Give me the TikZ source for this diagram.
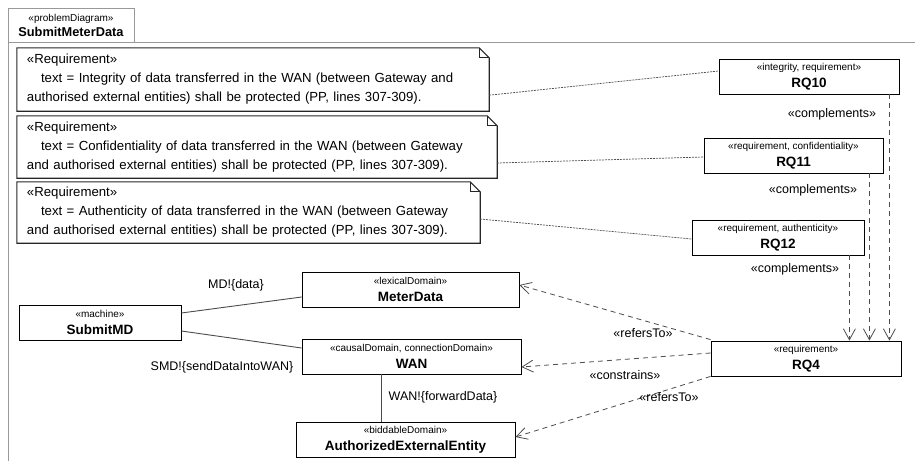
\documentclass[tikz,border=0pt]{standalone}
\usepackage{fontspec}
\setmainfont{Liberation Sans}
\usetikzlibrary{calc,arrows.meta}
\definecolor{framegray}{gray}{0.6}
\definecolor{linegray}{gray}{0.3}
\newcommand*{\Stereo}[1]{{\fontsize{10}{11}\selectfont «#1»}}
\newcommand*{\NoteOutline}[1]{% #1 = name of a note node
\draw [notepen] ($(#1.north east)+(-10,0)$) -- (#1.north west) -- (#1.south west)
  -- (#1.south east) -- ($(#1.north east)+(0,10)$) -- cycle;
\draw [notepen] ($(#1.north east)+(-10,0)$) -- ++(0,10) -- ++(10,0);
}
\tikzset{
  box/.style={draw=black, line width=0.8pt, fill=white, minimum height=35pt,
    inner sep=0pt, align=center, font=\fontsize{13.5}{17}\selectfont},
  reqnote/.style={inner xsep=10pt, inner ysep=0pt, align=left,
    font=\fontsize{13.2}{19}\selectfont},
  notepen/.style={draw=black!85, line width=1.1pt},
  trace/.style={draw=linegray, line width=0.7pt, dash pattern=on 2pt off 1pt},
  plain/.style={draw=linegray, line width=0.9pt},
  dep/.style={draw=linegray, line width=0.8pt, dash pattern=on 5pt off 4pt,
    -{Straight Barb[length=11pt,width=12pt,line width=0.8pt]}},
  lbl/.style={font=\fontsize{12.5}{14}\selectfont, inner sep=1pt}
}
\begin{document}
\begin{tikzpicture}[x=1pt, y=-1pt]
\useasboundingbox (0,0) rectangle (915,461);

% frame of the problem diagram
\draw [framegray, line width=0.9pt] (134,42) -- (915,42);
\draw [framegray, line width=0.9pt] (8,42) -- (8,461);
\node [draw=framegray, line width=0.9pt, minimum width=126pt, minimum height=34pt,
  inner sep=0pt, align=center, font=\fontsize{12.8}{15}\selectfont] (tab)
  at (71,25) {\Stereo{problemDiagram}\\\textbf{SubmitMeterData}};

% requirement notes
\node [reqnote, text width=452pt, minimum height=63pt] (note10) at (253,79.5)
  {«Requirement»\\\hspace*{14pt}text = Integrity of data transferred in the WAN (between Gateway and\\authorised external entities) shall be protected (PP, lines 307-309).};
\node [reqnote, text width=460pt, minimum height=62pt] (note11) at (257,147)
  {«Requirement»\\\hspace*{14pt}text = Confidentiality of data transferred in the WAN (between Gateway\\and authorised external entities) shall be protected (PP, lines 307-309).};
\node [reqnote, text width=443pt, minimum height=61pt] (note12) at (248.5,212.5)
  {«Requirement»\\\hspace*{14pt}text = Authenticity of data transferred in the WAN (between Gateway\\and authorised external entities) shall be protected (PP, lines 307-309).};
\NoteOutline{note10}
\NoteOutline{note11}
\NoteOutline{note12}

% requirements
\node [box, minimum width=180pt] (RQ10) at (809,76.5)
  {\Stereo{integrity, requirement}\\\textbf{RQ10}};
\node [box, minimum width=179pt] (RQ11) at (793.5,155.5)
  {\Stereo{requirement, confidentiality}\\\textbf{RQ11}};
\node [box, minimum width=172pt] (RQ12) at (778,237.5)
  {\Stereo{requirement, authenticity}\\\textbf{RQ12}};
\node [box, minimum width=190pt] (RQ4) at (806,358.5)
  {\Stereo{requirement}\\\textbf{RQ4}};

% domains
\node [box, minimum width=162pt] (SubmitMD) at (100,322.5)
  {\Stereo{machine}\\\textbf{SubmitMD}};
\node [box, minimum width=217pt] (MeterData) at (410.5,289.5)
  {\Stereo{lexicalDomain}\\\textbf{MeterData}};
\node [box, minimum width=219pt] (WAN) at (411.5,356.5)
  {\Stereo{causalDomain, connectionDomain}\\\textbf{WAN}};
\node [box, minimum width=219pt] (AEE) at (405.5,439.5)
  {\Stereo{biddableDomain}\\\textbf{AuthorizedExternalEntity}};

% notes to requirements
\draw [trace] ($(note10.south east)+(0,-16)$) -- ($(RQ10.west)+(0,-5.5)$);
\draw [trace] ($(note11.east)+(0,16)$) -- ($(RQ11.west)+(0,1.5)$);
\draw [trace] ($(note12.east)+(0,6.5)$) -- ($(RQ12.west)+(0,1.5)$);

% complements
\coordinate (c10) at ($(RQ10.south east)+(-10,0)$);
\coordinate (c11) at ($(RQ11.south east)+(-14,0)$);
\coordinate (c12) at ($(RQ12.south east)+(-15,0)$);
\draw [dep] (c10) -- (c10 |- RQ4.north);
\draw [dep] (c11) -- (c11 |- RQ4.north);
\draw [dep] (c12) -- (c12 |- RQ4.north);
\node [lbl] (cmp10) at (832,114) {«complements»};
\node [lbl] (cmp11) at (813,190) {«complements»};
\node [lbl] (cmp12) at (795,269) {«complements»};

% interfaces
\draw [plain] ($(SubmitMD.east)+(0,-9.5)$) -- ($(MeterData.west)+(0,7.5)$);
\draw [plain] ($(SubmitMD.east)+(0,8.5)$) -- ($(WAN.west)+(0,-8.5)$);
\coordinate (fwd) at (381,0);
\draw [plain] (fwd |- WAN.south) -- (fwd |- AEE.north);
\node [lbl] (ifc1) at (236,285) {MD!\{data\}};
\node [lbl] (ifc2) at (222,367) {SMD!\{sendDataIntoWAN\}};
\node [lbl] (ifc3) at (443,397) {WAN!\{forwardData\}};

% references of RQ4
\draw [dep] ($(RQ4.north west)+(0,-1)$) -- ($(MeterData.east)+(0,-4.5)$);
\draw [dep] ($(RQ4.west)+(0,-5.5)$) -- ($(WAN.east)+(0,10.5)$);
\draw [dep] (RQ4.south west) -- ($(AEE.east)+(0,-2.5)$);
\node [lbl] (ref1) at (643,333) {«refersTo»};
\node [lbl] (con1) at (625,375) {«constrains»};
\node [lbl] (ref2) at (669,397) {«refersTo»};
\end{tikzpicture}
\end{document}
